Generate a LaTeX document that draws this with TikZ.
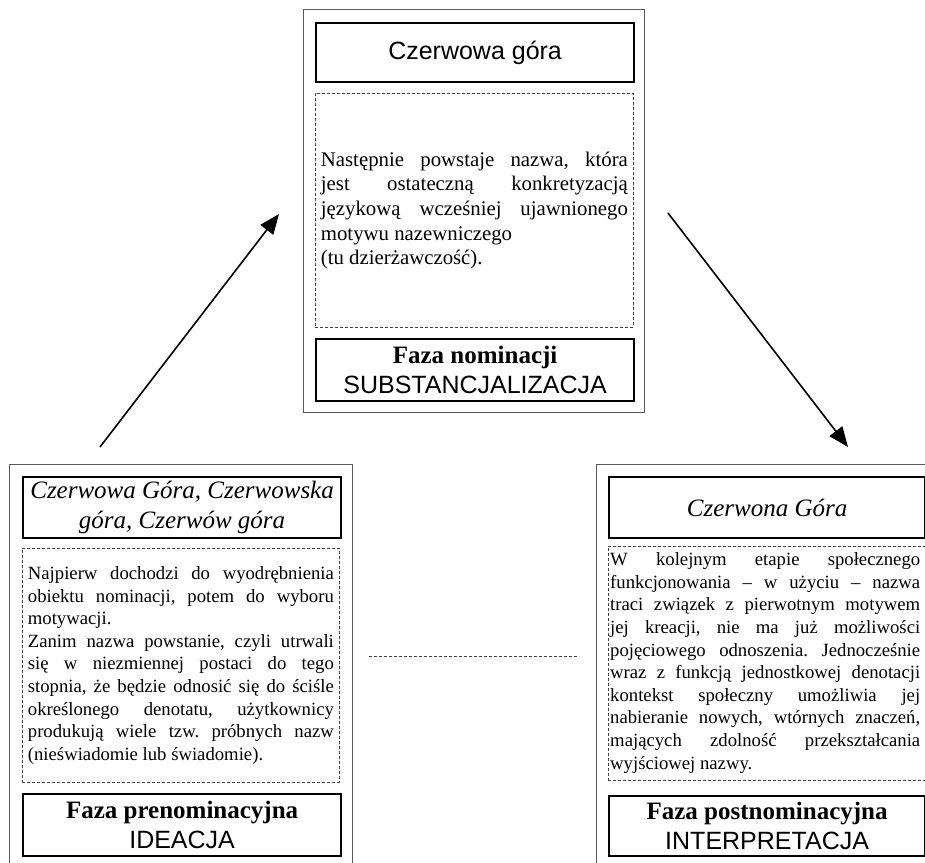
\documentclass[tikz,border=0pt]{standalone}
\usepackage{fontspec}
\setmainfont{Liberation Serif}
\setsansfont{Liberation Sans}
\usetikzlibrary{arrows.meta}
\frenchspacing
\newlength{\jw}
\newcommand{\JL}[1]{\hbox to \jw{#1}}
\newcommand{\RL}[1]{\hbox to \jw{#1\hfil}}
\definecolor{outergray}{HTML}{5A5A5A}
\definecolor{dashgray}{HTML}{404040}
\tikzset{
  outerbox/.style={draw=outergray, line width=1pt, rectangle, inner sep=0pt, anchor=north west},
  thickbox/.style={draw=black, line width=2.2pt, rectangle, inner sep=0pt, anchor=north west, align=center},
  dbox/.style={draw=dashgray, line width=0.8pt, dash pattern=on 3pt off 2pt, rectangle, inner sep=0pt, anchor=north west},
  bodytop/.style={inner sep=0pt, font=\frenchspacing\fontsize{20.8}{24.6}\selectfont},
  bodyside/.style={inner sep=0pt, font=\frenchspacing\fontsize{18.7}{22.6}\selectfont},
  sanstitle/.style={font=\sffamily\fontsize{25}{30}\selectfont},
  ittitle/.style={font=\itshape\fontsize{25}{30}\selectfont},
  phase/.style={font=\fontsize{25}{30}\selectfont},
  arr/.style={line width=1.6pt, -{Triangle[length=20pt,width=16pt]}},
  midline/.style={draw=dashgray, line width=0.8pt, dash pattern=on 3pt off 2pt}
}
\begin{document}
\begin{tikzpicture}[x=1pt, y=-1pt]
\useasboundingbox (0,0) rectangle (925,862);
\clip (0,0) rectangle (925,862);
\fill[white] (0,0) rectangle (925,862);

% ---------- top panel ----------
\node[outerbox, minimum width=341pt, minimum height=403pt] (topouter) at (303,9) {};
\node[thickbox, minimum width=318pt, minimum height=59pt, sanstitle] (toptitle) at (315,22) {Czerwowa góra};
\node[dbox, minimum width=318pt, minimum height=234pt] (topdash) at (315,93) {};
\node[bodytop] (toptext) at (topdash.center) {\setlength{\jw}{307pt}\vbox{%
\JL{Następnie powstaje nazwa, która}
\JL{jest ostateczną konkretyzacją}
\JL{językową wcześniej ujawnionego}
\RL{motywu nazewniczego}
\RL{(tu dzierżawczość).}}};
\node[thickbox, minimum width=318pt, minimum height=62pt, phase] (topphase) at (315,338) {\textbf{Faza nominacji}\\\sffamily SUBSTANCJALIZACJA};

% ---------- left panel ----------
\node[outerbox, minimum width=343pt, minimum height=460pt] (leftouter) at (9,464) {};
\node[thickbox, minimum width=318pt, minimum height=61pt, ittitle] (lefttitle) at (22,476) {Czerwowa Góra, Czerwowska\\góra, Czerwów góra};
\node[dbox, minimum width=317pt, minimum height=234pt] (leftdash) at (22,548) {};
\node[bodyside] (lefttext) at (leftdash.center) {\setlength{\jw}{306pt}\vbox{%
\JL{Najpierw dochodzi do wyodrębnienia}
\JL{obiektu nominacji, potem do wyboru}
\RL{motywacji.}
\JL{Zanim nazwa powstanie, czyli utrwali}
\JL{się w niezmiennej postaci do tego}
\JL{stopnia, że będzie odnosić się do ściśle}
\JL{określonego denotatu, użytkownicy}
\JL{produkują wiele tzw. próbnych nazw}
\RL{(nieświadomie lub świadomie).}}};
\node[thickbox, minimum width=318pt, minimum height=62pt, phase] (leftphase) at (22,793) {\textbf{Faza prenominacyjna}\\\sffamily IDEACJA};

% ---------- right panel ----------
\node[outerbox, minimum width=400pt, minimum height=460pt] (rightouter) at (596,464) {};
\node[thickbox, minimum width=316pt, minimum height=61pt, ittitle] (righttitle) at (608,476) {Czerwona Góra};
\node[dbox, minimum width=322pt, minimum height=234pt] (rightdash) at (608,546) {};
\node[bodyside, anchor=west] (righttext) at (610,663) {\setlength{\jw}{310pt}\vbox{%
\JL{W kolejnym etapie społecznego}
\JL{funkcjonowania – w użyciu – nazwa}
\JL{traci związek z pierwotnym motywem}
\JL{jej kreacji, nie ma już możliwości}
\JL{pojęciowego odnoszenia. Jednocześnie}
\JL{wraz z funkcją jednostkowej denotacji}
\JL{kontekst społeczny umożliwia jej}
\JL{nabieranie nowych, wtórnych znaczeń,}
\JL{mających zdolność przekształcania}
\RL{wyjściowej nazwy.}}};
\node[thickbox, minimum width=316pt, minimum height=60pt, phase] (rightphase) at (608,795) {\textbf{Faza postnominacyjna}\\\sffamily INTERPRETACJA};

% ---------- connectors ----------
\coordinate (la) at (100,447);
\coordinate (lb) at (279,214);
\coordinate (ra) at (668,213);
\coordinate (rb) at (848,447);
\coordinate (ma) at (369,656);
\coordinate (mb) at (579,656);
\draw[arr] (la) -- (lb);
\draw[arr] (ra) -- (rb);
\draw[midline] (ma) -- (mb);
\end{tikzpicture}
\end{document}
